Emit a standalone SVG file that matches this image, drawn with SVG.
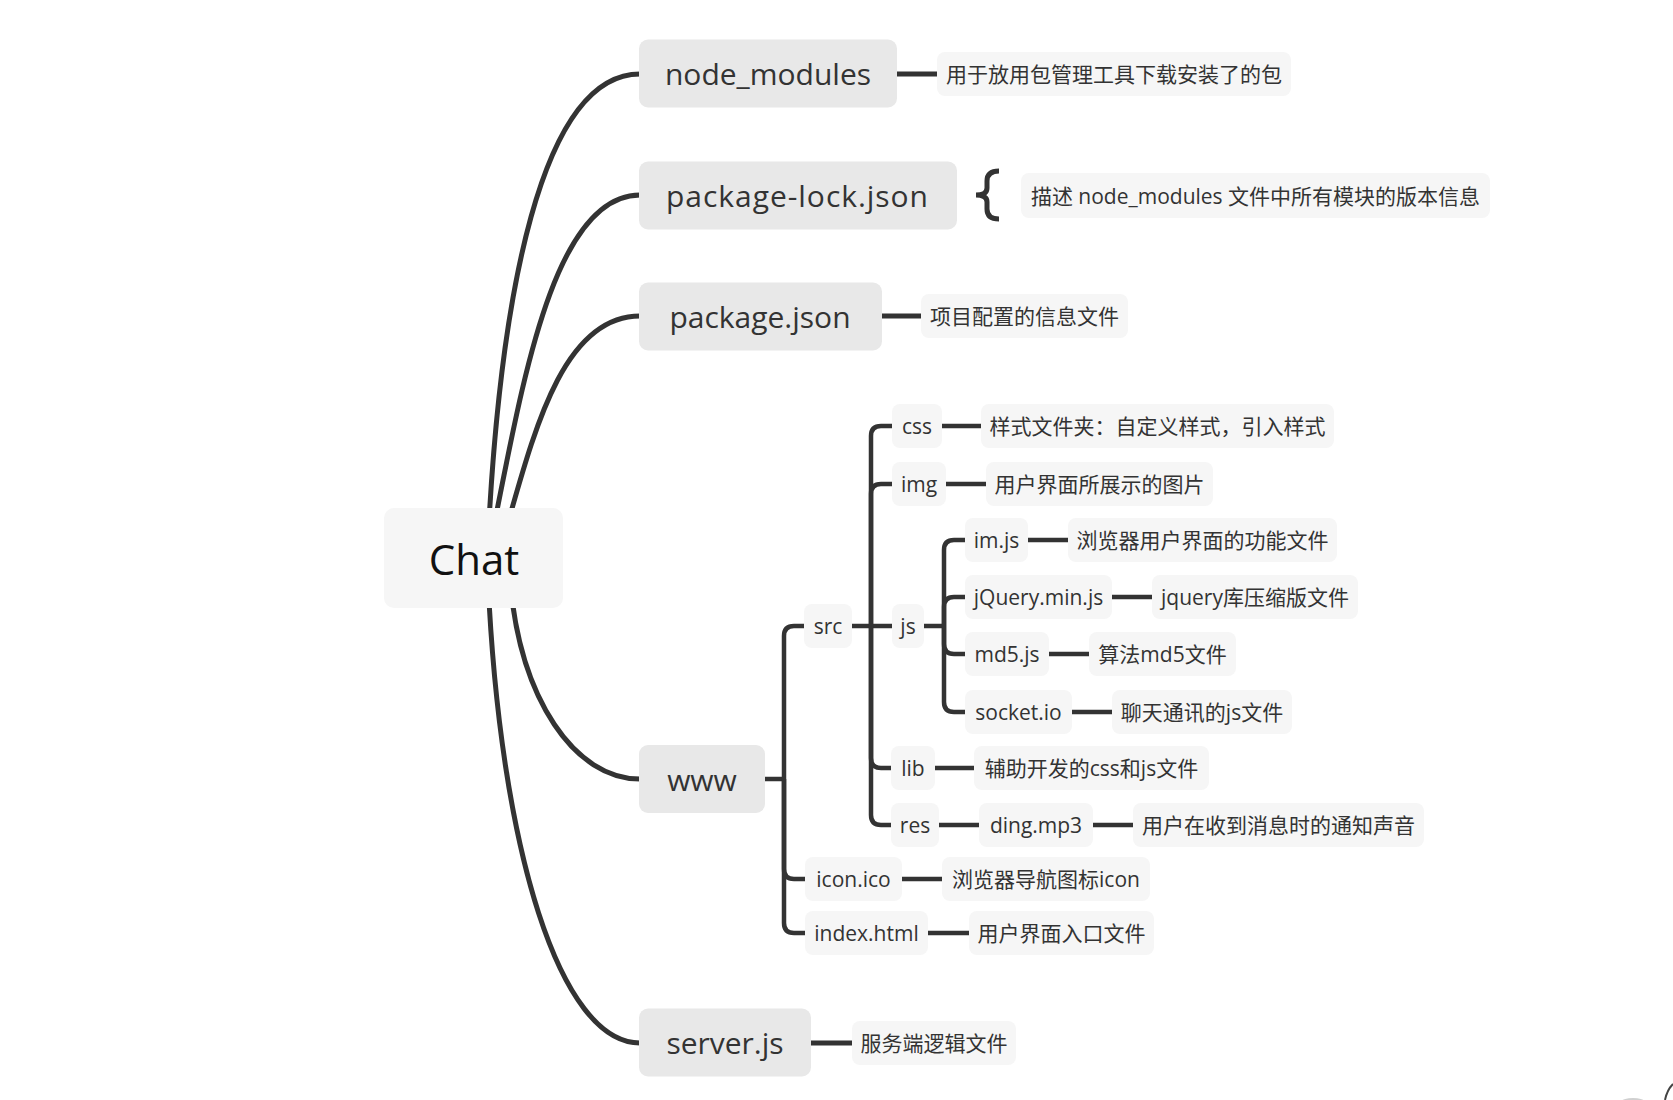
<svg xmlns="http://www.w3.org/2000/svg" width="1673" height="1100" viewBox="0 0 1673 1100">
<style>
.bg{fill:#ffffff}
.c{fill:none;stroke:#333333;stroke-width:5;stroke-linecap:butt}
.e{fill:none;stroke:#333333;stroke-width:4.5;stroke-linejoin:round}
.root{fill:#f6f6f6}
.l1{fill:#e8e8e8}
.n{fill:#f6f6f6}
text{font-family:"Open Sans","Noto Sans CJK SC",sans-serif;text-anchor:middle;dominant-baseline:central;fill:#333333}
.t0{font-size:42px;fill:#111111}
.t1{font-size:30px}
.t2{font-size:21px}
</style>
<rect class="bg" x="0" y="0" width="1673" height="1100"/>
<g id="connectors">
<path class="c" d="M488,540 C500,300 540,74 640,74"/>
<path class="c" d="M491,540 C520,400 550,195 640,195"/>
<path class="c" d="M503,540 C532,440 560,316 640,316"/>
<path class="c" d="M510,580 C520,700 575,779 640,779"/>
<path class="c" d="M488,580 C500,850 560,1043 640,1043"/>
<path class="c" d="M895,74 L938,74"/>
<path class="c" d="M880,316 L922,316"/>
<path class="c" d="M809,1043 L853,1043"/>
<path class="c" d="M999,171 Q987,171 987,181 L987,188 Q987,195 976,195 Q987,195 987,202 L987,209 Q987,219 999,219" stroke-linecap="round"/>
<path class="e" d="M763,779 L784,779"/>
<path class="e" d="M784,779 L784,636 Q784,626 794,626 L805,626"/>
<path class="e" d="M784,779 L784,869 Q784,879 794,879 L806,879"/>
<path class="e" d="M784,779 L784,923 Q784,933 794,933 L806,933"/>
<path class="e" d="M850,626 L871,626"/>
<path class="e" d="M871,626 L871,436 Q871,426 881,426 L893,426"/>
<path class="e" d="M871,626 L871,494 Q871,484 881,484 L893,484"/>
<path class="e" d="M871,626 L893,626"/>
<path class="e" d="M871,626 L871,758 Q871,768 881,768 L892,768"/>
<path class="e" d="M871,626 L871,815 Q871,825 881,825 L892,825"/>
<path class="e" d="M922,626 L944,626"/>
<path class="e" d="M944,626 L944,550 Q944,540 954,540 L966,540"/>
<path class="e" d="M944,626 L944,607 Q944,597 954,597 L966,597"/>
<path class="e" d="M944,626 L944,644 Q944,654 954,654 L966,654"/>
<path class="e" d="M944,626 L944,702 Q944,712 954,712 L966,712"/>
<path class="e" d="M940,426 L982,426"/>
<path class="e" d="M944,484 L987,484"/>
<path class="e" d="M1026,540 L1069,540"/>
<path class="e" d="M1110,597 L1153,597"/>
<path class="e" d="M1047,654 L1090,654"/>
<path class="e" d="M1070,712 L1113,712"/>
<path class="e" d="M933,768 L975,768"/>
<path class="e" d="M937,825 L980,825"/>
<path class="e" d="M1091,825 L1134,825"/>
<path class="e" d="M900,879 L943,879"/>
<path class="e" d="M926,933 L970,933"/>
</g>
<g id="node-chat"><rect class="root" x="384" y="508" width="179" height="100" rx="10"/><text class="t0" x="474" y="558">Chat</text></g>
<g id="node-node_modules"><rect class="l1" x="639" y="39.5" width="258" height="68" rx="9"/><text class="t1" x="768" y="73.5">node_modules</text></g>
<g id="node-package-lock"><rect class="l1" x="639" y="161.5" width="318" height="68" rx="9"/><text class="t1" x="797" y="195.5" textLength="262" lengthAdjust="spacing">package-lock.json</text></g>
<g id="node-package"><rect class="l1" x="639" y="282.5" width="243" height="68" rx="9"/><text class="t1" x="760" y="316.5">package.json</text></g>
<g id="node-www"><rect class="l1" x="639" y="745" width="126" height="68" rx="9"/><text class="t1" x="702" y="779">www</text></g>
<g id="node-server"><rect class="l1" x="639" y="1008.5" width="172" height="68" rx="9"/><text class="t1" x="725" y="1042.5">server.js</text></g>
<g id="desc-node_modules"><rect class="n" x="937" y="52" width="354" height="44" rx="8"/><text class="t2" x="1114" y="74">用于放用包管理工具下载安装了的包</text></g>
<g id="desc-package-lock"><rect class="n" x="1021" y="173" width="469" height="45" rx="8"/><text class="t2" x="1255.5" y="195.5">描述 node_modules 文件中所有模块的版本信息</text></g>
<g id="desc-package"><rect class="n" x="921" y="294" width="207" height="44" rx="8"/><text class="t2" x="1024.5" y="316">项目配置的信息文件</text></g>
<g id="desc-server"><rect class="n" x="852" y="1021" width="164" height="44" rx="8"/><text class="t2" x="934" y="1043">服务端逻辑文件</text></g>
<g id="node-src"><rect class="n" x="804" y="604" width="48" height="44" rx="8"/><text class="t2" x="828" y="626">src</text></g>
<g id="node-css"><rect class="n" x="892" y="404" width="50" height="44" rx="8"/><text class="t2" x="917" y="426">css</text></g>
<g id="desc-css"><rect class="n" x="981" y="404" width="353" height="44" rx="8"/><text class="t2" x="1157.5" y="426">样式文件夹：自定义样式，引入样式</text></g>
<g id="node-img"><rect class="n" x="892" y="462" width="54" height="44" rx="8"/><text class="t2" x="919" y="484">img</text></g>
<g id="desc-img"><rect class="n" x="986" y="462" width="227" height="44" rx="8"/><text class="t2" x="1099.5" y="484">用户界面所展示的图片</text></g>
<g id="node-js"><rect class="n" x="892" y="604" width="32" height="44" rx="8"/><text class="t2" x="908" y="626">js</text></g>
<g id="node-imjs"><rect class="n" x="965" y="518" width="63" height="44" rx="8"/><text class="t2" x="996.5" y="540">im.js</text></g>
<g id="desc-imjs"><rect class="n" x="1068" y="518" width="269" height="44" rx="8"/><text class="t2" x="1202.5" y="540">浏览器用户界面的功能文件</text></g>
<g id="node-jquery"><rect class="n" x="965" y="575" width="147" height="44" rx="8"/><text class="t2" x="1038.5" y="597">jQuery.min.js</text></g>
<g id="desc-jquery"><rect class="n" x="1152" y="575" width="206" height="44" rx="8"/><text class="t2" x="1255" y="597">jquery库压缩版文件</text></g>
<g id="node-md5"><rect class="n" x="965" y="632" width="84" height="44" rx="8"/><text class="t2" x="1007" y="654">md5.js</text></g>
<g id="desc-md5"><rect class="n" x="1089" y="632" width="147" height="44" rx="8"/><text class="t2" x="1162.5" y="654">算法md5文件</text></g>
<g id="node-socket"><rect class="n" x="965" y="690" width="107" height="44" rx="8"/><text class="t2" x="1018.5" y="712">socket.io</text></g>
<g id="desc-socket"><rect class="n" x="1112" y="690" width="180" height="44" rx="8"/><text class="t2" x="1202" y="712">聊天通讯的js文件</text></g>
<g id="node-lib"><rect class="n" x="891" y="746" width="44" height="44" rx="8"/><text class="t2" x="913" y="768">lib</text></g>
<g id="desc-lib"><rect class="n" x="974" y="746" width="235" height="44" rx="8"/><text class="t2" x="1091.5" y="768">辅助开发的css和js文件</text></g>
<g id="node-res"><rect class="n" x="891" y="803" width="48" height="44" rx="8"/><text class="t2" x="915" y="825">res</text></g>
<g id="node-ding"><rect class="n" x="979" y="803" width="114" height="44" rx="8"/><text class="t2" x="1036" y="825">ding.mp3</text></g>
<g id="desc-ding"><rect class="n" x="1133" y="803" width="291" height="44" rx="8"/><text class="t2" x="1278.5" y="825">用户在收到消息时的通知声音</text></g>
<g id="node-icon"><rect class="n" x="805" y="857" width="97" height="44" rx="8"/><text class="t2" x="853.5" y="879">icon.ico</text></g>
<g id="desc-icon"><rect class="n" x="942" y="857" width="208" height="44" rx="8"/><text class="t2" x="1046" y="879">浏览器导航图标icon</text></g>
<g id="node-index"><rect class="n" x="805" y="911" width="123" height="44" rx="8"/><text class="t2" x="866.5" y="933">index.html</text></g>
<g id="desc-index"><rect class="n" x="969" y="911" width="185" height="44" rx="8"/><text class="t2" x="1061.5" y="933">用户界面入口文件</text></g>
<g id="corner-artifact">
<ellipse cx="1633" cy="1101" rx="11" ry="3" fill="#d0d0d0"/>
<path d="M1665,1100 Q1667,1090 1673,1084" fill="none" stroke="#444444" stroke-width="2"/>
</g>
</svg>
